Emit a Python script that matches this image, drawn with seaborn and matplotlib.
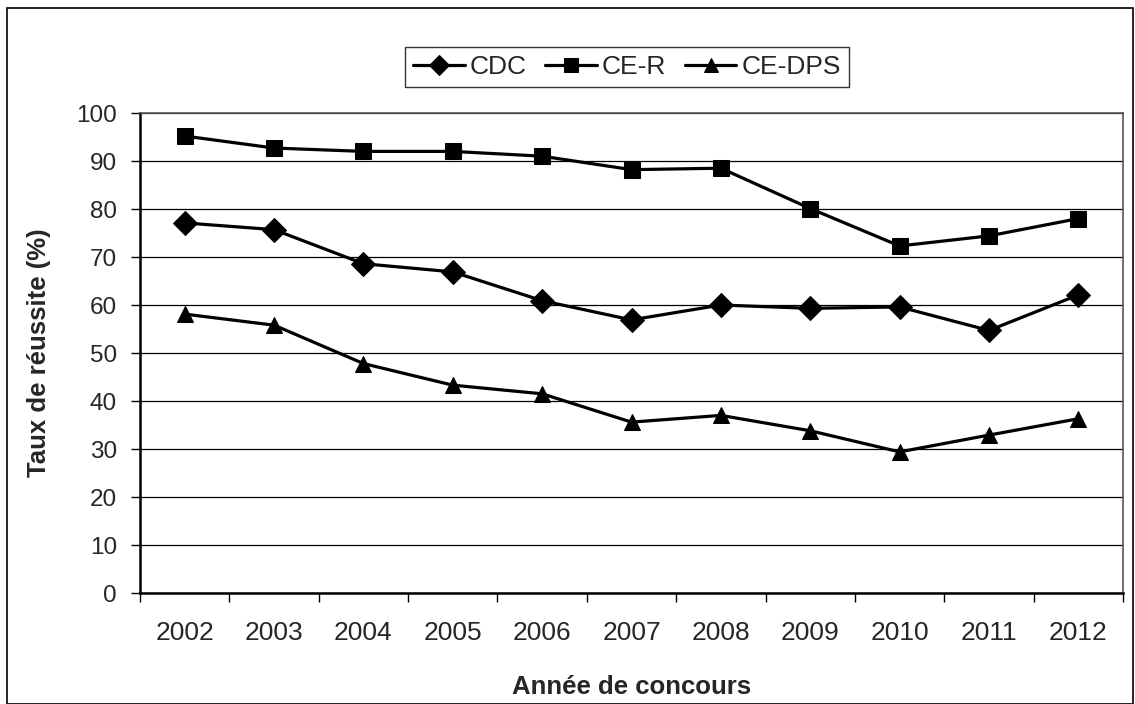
import numpy as np
import pandas as pd
import seaborn as sns
import matplotlib.pyplot as plt
from matplotlib.patches import Rectangle

annees = ['2002', '2003', '2004', '2005', '2006', '2007', '2008', '2009', '2010', '2011', '2012']
cdc = [77.1, 75.7, 68.6, 66.9, 60.9, 56.9, 60.0, 59.3, 59.6, 54.7, 62.1]
ce_r = [95.2, 92.7, 92.0, 92.0, 91.0, 88.2, 88.5, 80.1, 72.3, 74.4, 78.0]
ce_dps = [58.1, 55.8, 47.8, 43.3, 41.5, 35.6, 37.0, 33.8, 29.4, 32.9, 36.3]
series = ['CDC', 'CE-R', 'CE-DPS']

df = pd.DataFrame({
    'pos': list(range(len(annees))) * 3,
    'taux': cdc + ce_r + ce_dps,
    'serie': [s for s in series for _ in annees],
})

sns.set_style('white')
plt.rcParams['font.family'] = ['Liberation Sans', 'DejaVu Sans']

fig = plt.figure(figsize=(11.35, 7.04), dpi=100)
ax = fig.add_axes([140 / 1135, 1 - 593 / 704, 983 / 1135, 480 / 704])

sns.lineplot(data=df, x='pos', y='taux', style='serie', style_order=series,
             markers={'CDC': 'D', 'CE-R': 's', 'CE-DPS': '^'}, dashes=False,
             color='black', linewidth=2.3, markersize=12, markeredgecolor='black',
             ax=ax)

ax.set_xlim(-0.5, len(annees) - 0.5)
ax.set_ylim(0, 100)
ax.set_yticks(np.arange(0, 101, 10))
ax.yaxis.grid(True, color='black', linewidth=0.9)
ax.set_axisbelow(True)

# etiquettes centrees sur les categories, graduations entre les categories
ax.set_xticks(np.arange(len(annees)))
ax.set_xticklabels(annees, fontsize=19)
ax.set_xticks(np.arange(-0.5, len(annees), 1), minor=True)
ax.tick_params(axis='x', which='major', length=0, pad=20)
ax.tick_params(axis='x', which='minor', length=6.5, width=1, color='black', direction='out', bottom=True)
ax.tick_params(axis='y', length=6.5, width=1, color='black', direction='out', left=True, labelsize=17.5, pad=10)

for side in ['left', 'bottom']:
    ax.spines[side].set_color('black')
    ax.spines[side].set_linewidth(1.8)
for side in ['top', 'right']:
    ax.spines[side].set_color('#555555')
    ax.spines[side].set_linewidth(1.2)

ax.set_xlabel('Année de concours', fontsize=18.5, fontweight='bold', labelpad=22)
ax.set_ylabel('Taux de réussite (%)', fontsize=18.5, fontweight='bold', labelpad=18)

leg = ax.legend(loc='center', bbox_to_anchor=(627 / 1135, 1 - 67 / 704), bbox_transform=fig.transFigure,
                ncol=3, frameon=True, fancybox=False, edgecolor='black', fontsize=19,
                handlelength=1.95, handletextpad=0.2, columnspacing=0.7, borderpad=0.3)
leg.get_frame().set_linewidth(1)
for h in leg.legend_handles:
    h.set_markersize(10.5)
    h.set_linewidth(2.3)

fig.patches.append(Rectangle((7 / 1135, 0), 1126 / 1135, 1 - 8 / 704, transform=fig.transFigure,
                             fill=False, edgecolor='black', linewidth=1.2))

fig.savefig('out.png', dpi=100)
